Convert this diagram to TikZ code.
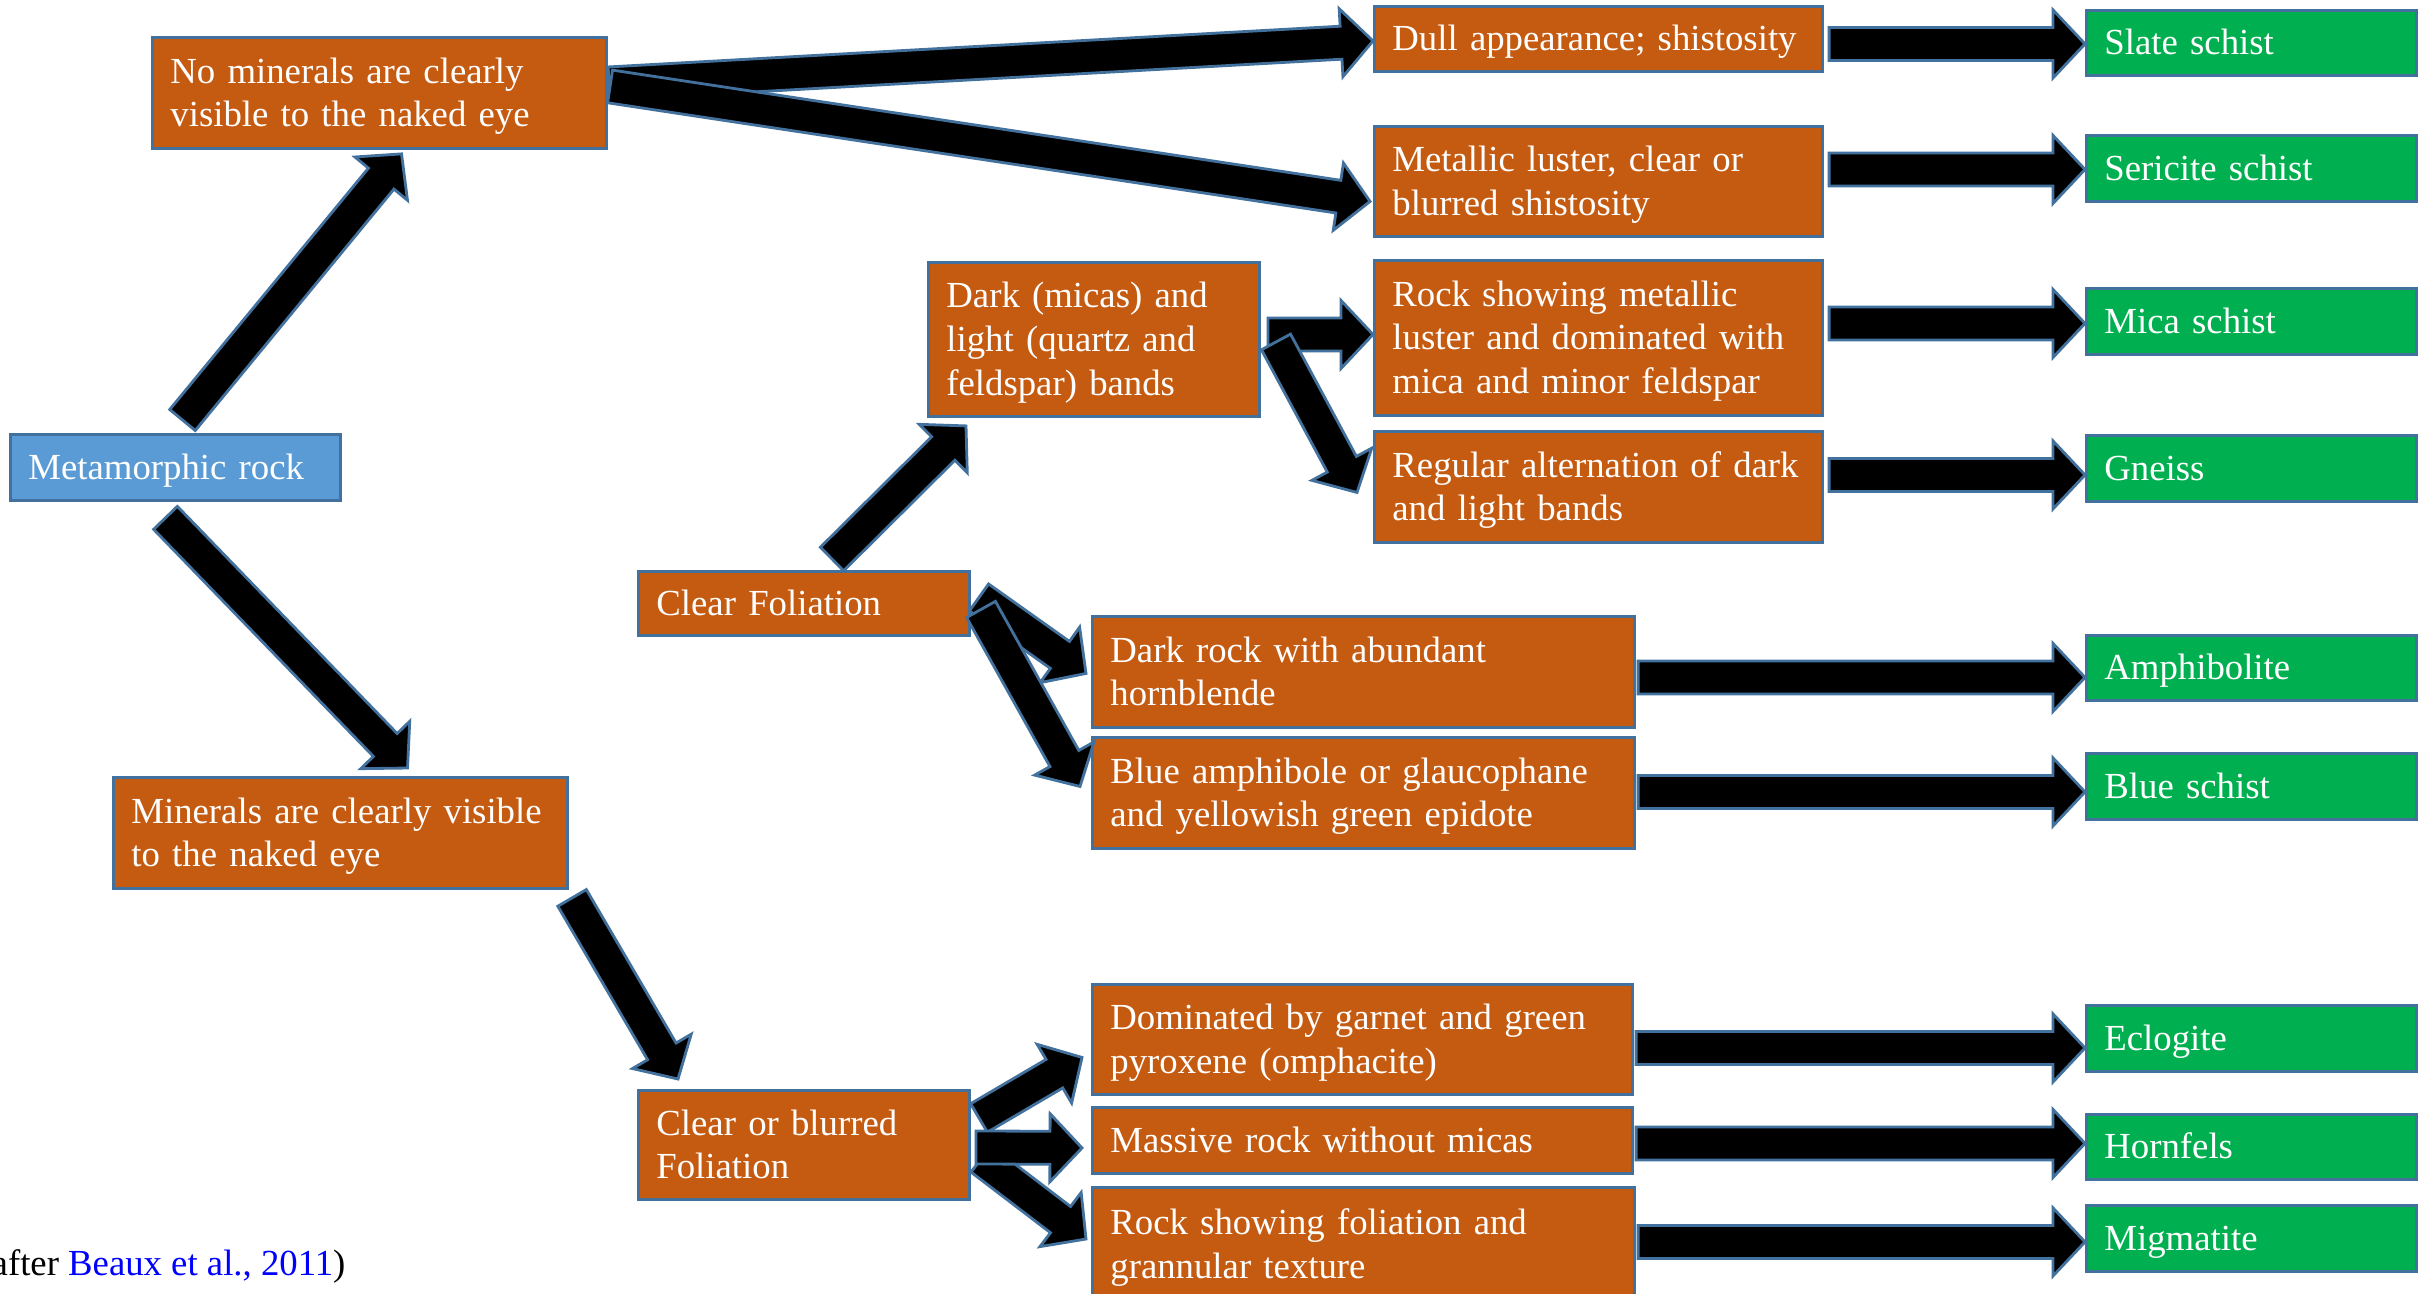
\documentclass[tikz,border=0pt]{standalone}
\usepackage{fontspec}
\setmainfont{Liberation Serif}
\usetikzlibrary{calc}
\definecolor{borderc}{HTML}{41719C}
\definecolor{orangec}{HTML}{C55A11}
\definecolor{bluec}{HTML}{5B9BD5}
\definecolor{greenc}{HTML}{00B050}
\definecolor{citeblue}{RGB}{0,0,255}
\newcommand{\boxstrut}{\rule[-0.09cm]{0pt}{0.42cm}}
\tikzset{
  basebox/.style={rectangle, draw=borderc, line width=0.8pt, text=white, anchor=north west,
    align=left, inner xsep=0.18cm, inner ysep=0pt,
    font=\fontsize{10.45pt}{12.4pt}\selectfont,
    execute at begin node=\boxstrut, execute at end node=\boxstrut},
  obox/.style={basebox, fill=orangec},
  bbox/.style={basebox, fill=bluec},
  gbox/.style={basebox, fill=greenc, minimum width=3.30cm, text width=2.94cm},
  blockarr/.style={fill=black, draw=borderc, line width=0.8pt, line join=miter}
}
\newcommand{\blockarrow}[2]{%
  \path #1 coordinate (bA);
  \path #2 coordinate (bB);
  \coordinate (bC) at ($(bB)!0.32cm!(bA)$);
  \filldraw[blockarr] ($(bA)!0.165cm!90:(bB)$) -- ($(bC)!0.165cm!-90:(bA)$)
    -- ($(bC)!0.34cm!-90:(bA)$) -- (bB) -- ($(bC)!0.34cm!90:(bA)$)
    -- ($(bC)!0.165cm!90:(bA)$) -- ($(bA)!0.165cm!-90:(bB)$) -- cycle;
}
\begin{document}
\begin{tikzpicture}[x=0.01cm, y=-0.01cm]
\fill[white] (0,0) rectangle (2433,1293);
\useasboundingbox (0,0) rectangle (2433,1293);

% left column
\node[bbox, minimum width=3.30cm, minimum height=0.66cm, text width=2.94cm] (meta) at (9,433) {Metamorphic rock};
\node[obox, minimum width=4.54cm, minimum height=1.11cm, text width=4.18cm] (nomin) at (151,36) {No minerals are clearly\\visible to the naked eye};
\node[obox, minimum width=4.54cm, minimum height=1.11cm, text width=4.18cm] (minvis) at (112,776) {Minerals are clearly visible\\to the naked eye};

% middle
\node[obox, minimum width=3.31cm, minimum height=1.54cm, text width=2.95cm] (darkm) at (927,261) {Dark (micas) and\\light (quartz and\\feldspar) bands};
\node[obox, minimum width=3.31cm, minimum height=0.64cm, text width=2.95cm] (clearfol) at (637,570) {Clear Foliation};
\node[obox, minimum width=3.31cm, minimum height=1.09cm, text width=2.95cm] (cob) at (637,1089) {Clear or blurred\\Foliation};

% descriptions
\node[obox, minimum width=4.48cm, minimum height=0.65cm, text width=4.12cm] (dull) at (1373,5) {Dull appearance; shistosity};
\node[obox, minimum width=4.48cm, minimum height=1.10cm, text width=4.12cm] (metal) at (1373,125) {Metallic luster, clear or\\blurred shistosity};
\node[obox, minimum width=4.48cm, minimum height=1.55cm, text width=4.12cm] (rockmet) at (1373,259) {Rock showing metallic\\luster and dominated with\\mica and minor feldspar};
\node[obox, minimum width=4.48cm, minimum height=1.11cm, text width=4.12cm] (regular) at (1373,430) {Regular alternation of dark\\and light bands};
\node[obox, minimum width=5.42cm, minimum height=1.11cm, text width=5.06cm] (darkrock) at (1091,615) {Dark rock with abundant\\hornblende};
\node[obox, minimum width=5.42cm, minimum height=1.11cm, text width=5.06cm] (blueamph) at (1091,736) {Blue amphibole or glaucophane\\and yellowish green epidote};
\node[obox, minimum width=5.40cm, minimum height=1.10cm, text width=5.04cm] (domin) at (1091,983) {Dominated by garnet and green\\pyroxene (omphacite)};
\node[obox, minimum width=5.40cm, minimum height=0.66cm, text width=5.04cm] (massive) at (1091,1106) {Massive rock without micas};
\node[obox, minimum width=5.42cm, minimum height=1.14cm, text width=5.06cm] (rockfol) at (1091,1186) {Rock showing foliation and\\grannular texture};

% results
\node[gbox, minimum height=0.65cm] (slate) at (2085,9) {Slate schist};
\node[gbox, minimum height=0.66cm] (seric) at (2085,134) {Sericite schist};
\node[gbox, minimum height=0.66cm] (mica) at (2085,287) {Mica schist};
\node[gbox, minimum height=0.66cm] (gneiss) at (2085,434) {Gneiss};
\node[gbox, minimum height=0.65cm] (amph) at (2085,634) {Amphibolite};
\node[gbox, minimum height=0.66cm] (bschist) at (2085,752) {Blue schist};
\node[gbox, minimum height=0.66cm] (eclog) at (2085,1004) {Eclogite};
\node[gbox, minimum height=0.65cm] (hornf) at (2085,1113) {Hornfels};
\node[gbox, minimum height=0.66cm] (migm) at (2085,1204) {Migmatite};

% citation
\node[anchor=base west, inner sep=0pt, font=\fontsize{10.45pt}{12.4pt}\selectfont] (cite) at (-9,1275) {after \textcolor{citeblue}{Beaux et al., 2011})};

% arrows
\blockarrow{($(meta.north)+(7,-13)$)}{($(nomin.south)+(22,4)$)}
\blockarrow{($(meta.south)+(-10,16)$)}{($(minvis.north)+(67,-8)$)}
\blockarrow{($(nomin.east)+(1,-9.5)$)}{($(dull.west)+(0,2)$)}
\blockarrow{($(nomin.east)+(2,-6.5)$)}{($(metal.west)+(-3,20)$)}
\blockarrow{($(clearfol.north)+(28,-11)$)}{($(darkm.south west)+(39,8)$)}
\blockarrow{($(darkm.east)+(7,-5)$)}{($(rockmet.west)+(0,-3.5)$)}
\blockarrow{($(darkm.east)+(15,2.5)$)}{($(regular.west)+(-16,5.5)$)}
\blockarrow{($(clearfol.east)+(8,-6)$)}{($(darkrock.west)+(-5,1.5)$)}
\blockarrow{($(clearfol.east)+(10,6)$)}{($(blueamph.west)+(-11,-6.5)$)}
\blockarrow{($(minvis.south east)+(3,8)$)}{($(cob.north west)+(41,-10)$)}
\blockarrow{($(cob.east)+(8,-27)$)}{($(domin.west)+(-9,18)$)}
\blockarrow{($(cob.east)+(10,14)$)}{($(rockfol.north west)+(-5,53)$)}
\blockarrow{($(cob.east)+(5,2.5)$)}{($(massive.west)+(-9,7.5)$)}

\blockarrow{($(dull.east)+(5,5)$)}{($(slate.west)+(0,1)$)}
\blockarrow{($(metal.east)+(5,-12)$)}{($(seric.west)+(0,1)$)}
\blockarrow{($(rockmet.east)+(5,-14.5)$)}{($(mica.west)+(0,2)$)}
\blockarrow{($(regular.east)+(5,-12)$)}{($(gneiss.west)+(0,6.5)$)}
\blockarrow{($(darkrock.east)+(2,5.5)$)}{($(amph.west)+(0,9.5)$)}
\blockarrow{($(blueamph.east)+(2,-1)$)}{($(bschist.west)+(0,5.5)$)}
\blockarrow{($(domin.east)+(2,8.5)$)}{($(eclog.west)+(0,9.5)$)}
\blockarrow{($(massive.east)+(2,3)$)}{($(hornf.west)+(0,-3.5)$)}
\blockarrow{($(rockfol.east)+(2,-2.5)$)}{($(migm.west)+(0,3.5)$)}
\end{tikzpicture}
\end{document}
